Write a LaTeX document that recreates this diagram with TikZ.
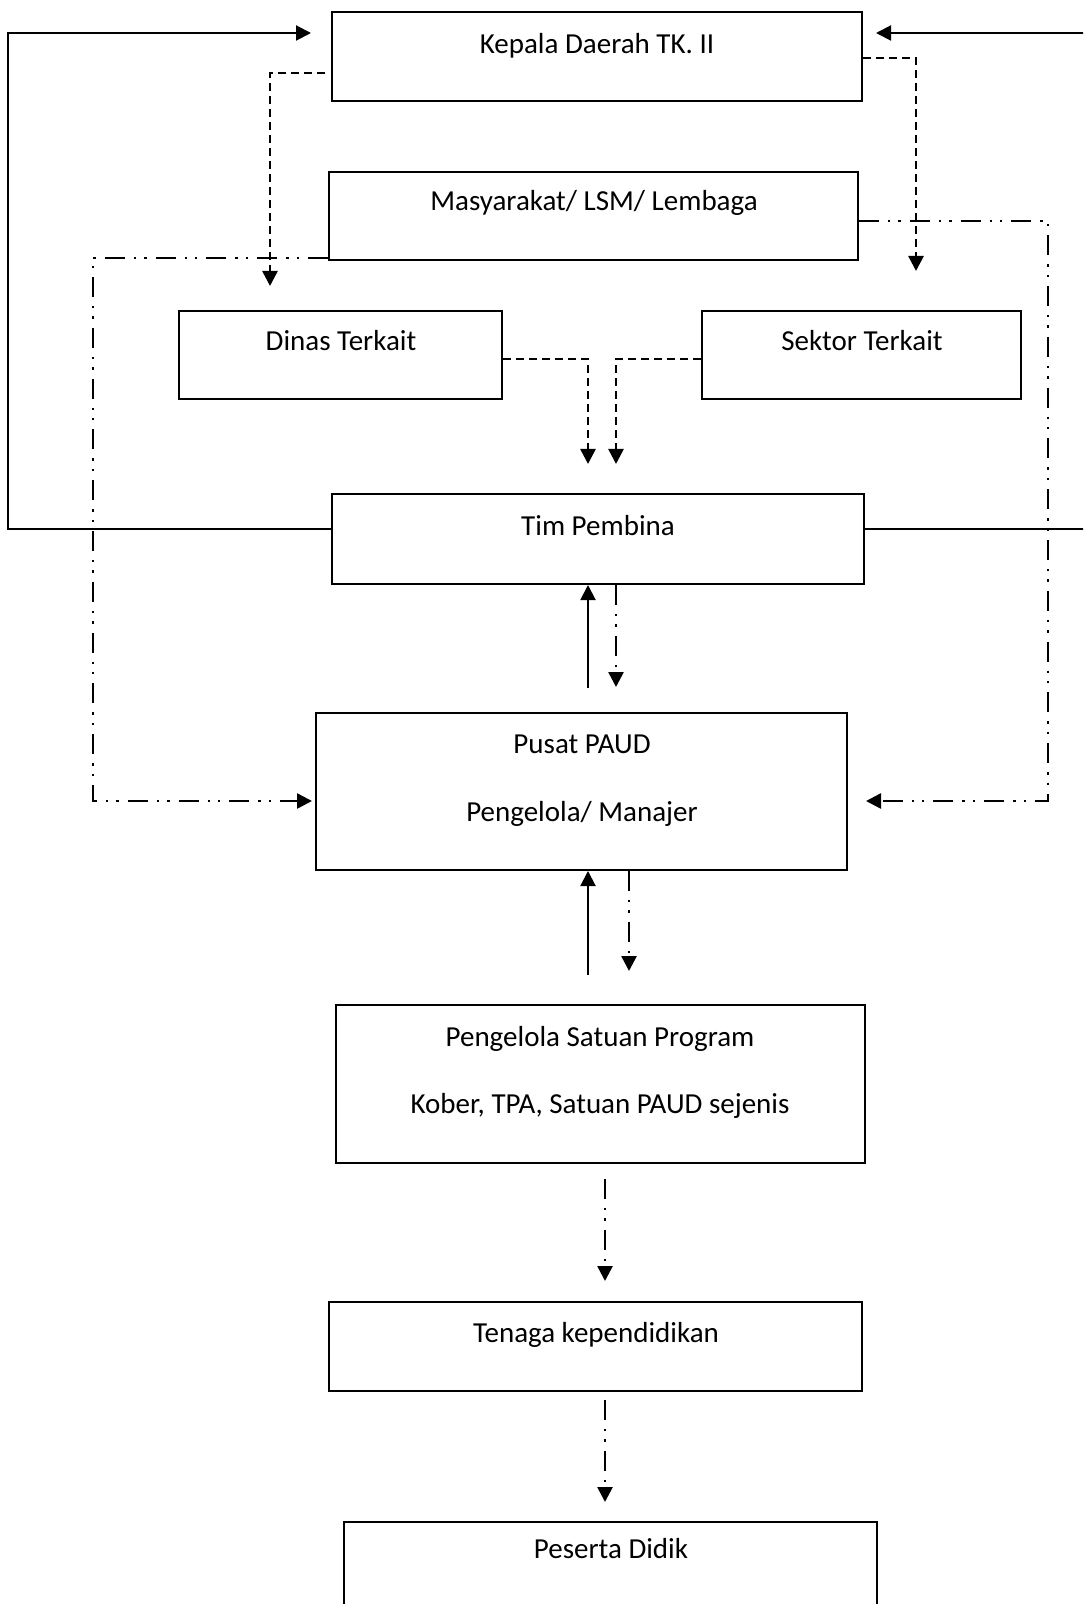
\documentclass[tikz,border=0pt]{standalone}
\usepackage{fontspec}
\setmainfont{Carlito}
\usetikzlibrary{arrows.meta}
\begin{document}
\begin{tikzpicture}[x=0.5pt,y=-0.5pt,
  box/.style={draw,line width=1pt,inner sep=0pt,minimum width=#1},
  lbl/.style={inner sep=0pt,font=\fontsize{14.5}{17}\selectfont,text height=10.5pt,text depth=3pt},
  sol/.style={line width=1pt},
  dsh/.style={line width=1.3pt,dash pattern=on 4pt off 2.5pt},
  dd/.style={line width=1.3pt,dash pattern=on 10pt off 4.5pt on 1.2pt off 4pt on 1.2pt off 4.5pt},
  arr/.style={-{Triangle[length=7.5pt,width=7.5pt]}}]
\clip (0,0) rectangle (1083,1604);
\fill[white] (0,0) rectangle (1083,1604);
% boxes
\node[box=265pt,minimum height=44.5pt] (kepala) at (597,56.5) {};
\node[box=264.5pt,minimum height=44pt] (masy) at (593.5,216) {};
\node[box=161.5pt,minimum height=44pt] (dinas) at (340.5,355) {};
\node[box=159.5pt,minimum height=44pt] (sektor) at (861.5,355) {};
\node[box=266pt,minimum height=45pt] (tim) at (598,539) {};
\node[box=265.5pt,minimum height=78.5pt] (pusat) at (581.5,791.5) {};
\node[box=264.5pt,minimum height=79pt] (satuan) at (600.5,1084) {};
\node[box=266.5pt,minimum height=44.5pt] (tenaga) at (595.5,1346.5) {};
\node[box=266.5pt,minimum height=59pt] (peserta) at (610.5,1581) {};
% texts
\node[lbl] (kepalaT) at (597,46) {Kepala Daerah TK. II};
\node[lbl] (masyT) at (594,203) {Masyarakat/ LSM/ Lembaga};
\node[lbl] (dinasT) at (341,343) {Dinas Terkait};
\node[lbl] (sektorT) at (862,343) {Sektor Terkait};
\node[lbl] (timT) at (598,528) {Tim Pembina};
\node[lbl] (pusatT1) at (582,746) {Pusat PAUD};
\node[lbl] (pusatT2) at (582,814) {Pengelola/ Manajer};
\node[lbl] (satuanT1) at (600,1039) {Pengelola Satuan Program};
\node[lbl] (satuanT2) at (600,1106) {Kober, TPA, Satuan PAUD sejenis};
\node[lbl] (tenagaT) at (596,1335) {Tenaga kependidikan};
\node[lbl] (pesertaT) at (611,1551) {Peserta Didik};
% solid feedback lines
\draw[sol,arr,shorten >=10pt] (tim.west |- 0,529) -- (8,529) -- (8,33) -- (kepala.west |- 0,33);
\draw[sol,arr,shorten >=6.5pt] (tim.east |- 0,529) -- (1095,529) -- (1095,33) -- (kepala.east |- 0,33);
% dashed
\draw[dsh,arr,shorten <=3pt,shorten >=12pt] (kepala.west |- 0,73) -- (270,73) -- (270,0 |- dinas.north);
\draw[dsh,arr,shorten >=19.5pt] (kepala.east |- 0,58) -- (916,58) -- (916,0 |- sektor.north);
\draw[dsh,arr,shorten >=14.5pt] (dinas.east |- 0,359) -- (588,359) -- (588,0 |- tim.north);
\draw[dsh,arr,shorten >=14.5pt] (sektor.west |- 0,359) -- (616,359) -- (616,0 |- tim.north);
% dash-dot-dot from Masyarakat
\draw[dd,arr,shorten >=1.5pt] (masy.west |- 0,258) -- (93,258) -- (93,801) -- (pusat.west |- 0,801);
\draw[dd,arr,shorten >=9pt] (masy.east |- 0,221) -- (1048,221) -- (1048,801) -- (pusat.east |- 0,801);
% vertical links
\coordinate (u1) at (588,688);
\coordinate (u2) at (588,975);
\draw[sol,arr] (u1) -- (u1 |- tim.south);
\draw[dd,arr,shorten >=12.5pt] (616,0 |- tim.south) -- (616,0 |- pusat.north);
\draw[sol,arr] (u2) -- (u2 |- pusat.south);
\draw[dd,arr,shorten >=16.5pt] (629,0 |- pusat.south) -- (629,0 |- satuan.north);
\draw[dd,arr,shorten <=7.5pt,shorten >=10pt] (605,0 |- satuan.south) -- (605,0 |- tenaga.north);
\draw[dd,arr,shorten <=4pt,shorten >=9.5pt] (605,0 |- tenaga.south) -- (605,0 |- peserta.north);
\end{tikzpicture}
\end{document}
